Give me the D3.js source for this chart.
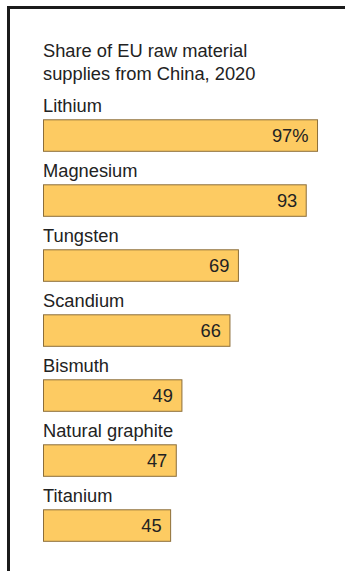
<!DOCTYPE html>
<html>
<head>
<meta charset="utf-8">
<script src="https://cdn.jsdelivr.net/npm/d3@7"></script>
<style>
  body { margin: 0; background: #fff; }
  svg { display: block; }
  text { font-family: "Liberation Sans", Arial, sans-serif; fill: #222; }
</style>
</head>
<body>
<div id="chart"></div>
<script>
// data
const titleLines = ["Share of EU raw material", "supplies from China, 2020"];
const materials = ["Lithium", "Magnesium", "Tungsten", "Scandium", "Bismuth", "Natural graphite", "Titanium"];
const shares = [97, 93, 69, 66, 49, 47, 45];

const width = 345, height = 571;
const fontSize = "18.3px";

let svg = d3.select("#chart").append("svg")
    .attr("width", width)
    .attr("height", height);

// frame (top + left rule)
svg.append("path")
    .attr("d", "M8.5," + height + "V7.5H" + width)
    .attr("fill", "none")
    .attr("stroke", "#1b1b1b")
    .attr("stroke-width", 3);

// title
svg.append("text")
    .attr("x", 43)
    .attr("y", 57)
    .style("font-size", fontSize)
    .selectAll("tspan")
    .data(titleLines)
    .enter().append("tspan")
    .attr("x", 43)
    .attr("dy", (d, i) => i === 0 ? 0 : 22.5)
    .text(d => d);

// scales
let x = d3.scaleLinear()
    .domain([0, 100])
    .range([43.5, 326]);

let y = d3.scaleBand()
    .domain(materials)
    .range([119.3, 574.3])
    .paddingInner(0);

let barH = 31.5;

let rows = svg.selectAll(".row")
    .data(materials.map((m, i) => ({name: m, value: shares[i]})))
    .enter().append("g")
    .attr("class", "row")
    .attr("transform", d => "translate(0," + y(d.name) + ")");

rows.append("text")
    .attr("x", 43)
    .attr("y", -7.5)
    .style("font-size", fontSize)
    .text(d => d.name);

rows.append("rect")
    .attr("x", x(0))
    .attr("y", 0.5)
    .attr("width", d => x(d.value) - x(0))
    .attr("height", barH)
    .attr("fill", "#fdcb62")
    .attr("stroke", "#8c6e3a")
    .attr("stroke-width", 1);

rows.append("text")
    .attr("x", d => x(d.value) - 9)
    .attr("y", 22.5)
    .attr("text-anchor", "end")
    .style("font-size", fontSize)
    .text((d, i) => i === 0 ? d.value + "%" : d.value);
</script>
</body>
</html>
